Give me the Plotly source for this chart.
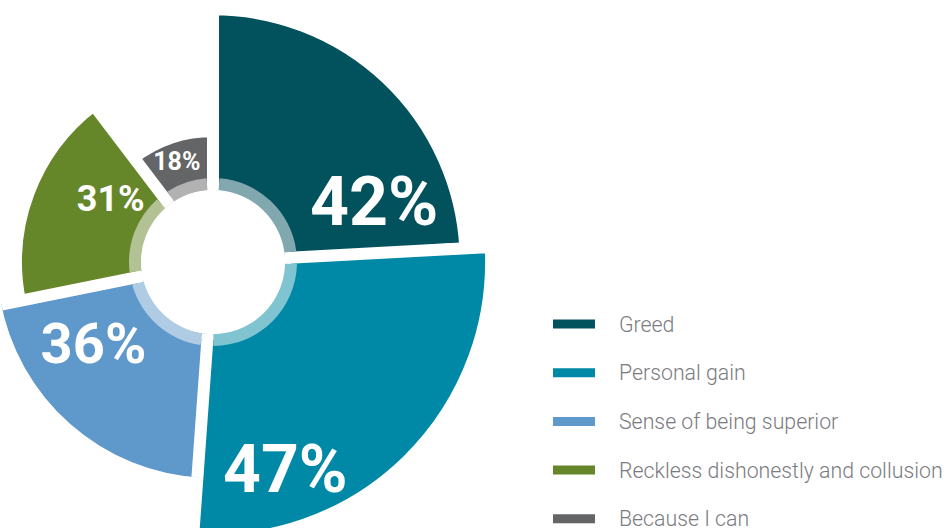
import math
import plotly.graph_objects as go

# ---------------- data ----------------
categories = ["Greed", "Personal gain", "Sense of being superior",
              "Reckless dishonestly and collusion", "Because I can"]
values = [42, 47, 36, 31, 18]
value_labels = ["42%", "47%", "36%", "31%", "18%"]

# ---------------- styles ----------------
colors = ["#02525E", "#0089A6", "#5F98CA", "#66862A", "#646567"]


def tint(hex_color, f=0.5):
    h = hex_color.lstrip("#")
    r, g, b = (int(h[i:i + 2], 16) for i in (0, 2, 4))
    r, g, b = (round(c + (255 - c) * f) for c in (r, g, b))
    return f"#{r:02X}{g:02X}{b:02X}"


ring_colors = [tint(c, 0.5) for c in colors]
label_sizes = [68, 66, 56, 36, 25]
label_frac = [0.80, 0.76, 0.69, 0.67, 0.47]     # angular position inside sector
label_rpx = [172, 220, 145, 120, 107]           # distance from centre (px)
LABEL_DROP = 0.085                               # vertical nudge, in em

W, H = 947, 560            # viewport shows the top 528 px (chart is cropped)
CX, CY = 213, 262          # centre of the chart in px
R_HOLE = 72                # hole radius in px
RING_PX = 12               # light inner ring thickness in px
GAP_PX = 12                # white gap between sectors
PX0, PXU = 39.8, 5.07      # radial scale: px = PX0 + PXU * value
CLIP_PAD = 1.5             # extra degrees of subplot sector around each bar

r0 = (R_HOLE - PX0) / PXU
ring_r = RING_PX / PXU

total = sum(values)
widths = [v / total * 360 for v in values]
starts = []
acc = 0
for w in widths:
    starts.append(acc)
    acc += w
centers = [s + w / 2 for s, w in zip(starts, widths)]
ring_gap_deg = 2 * math.degrees((GAP_PX / 2) / (R_HOLE + RING_PX / 2))


def sector_bbox(a0, a1):
    """bbox (unit circle, y up) of an angular sector incl. its centre"""
    pts = [(0.0, 0.0), (math.cos(math.radians(a0)), math.sin(math.radians(a0))),
           (math.cos(math.radians(a1)), math.sin(math.radians(a1)))]
    k = math.ceil(a0 / 90)
    while k * 90 <= a1:
        a = math.radians(k * 90)
        pts.append((round(math.cos(a)), round(math.sin(a))))
        k += 1
    xs = [p[0] for p in pts]
    ys = [p[1] for p in pts]
    return min(xs), min(ys), max(xs), max(ys)


def label_polar(i):
    """label position (radial units, degrees clockwise from top)"""
    th = math.radians(starts[i] + label_frac[i] * widths[i])
    dx = label_rpx[i] * math.sin(th)
    dy = -label_rpx[i] * math.cos(th) + LABEL_DROP * label_sizes[i]  # screen y down
    rp = math.hypot(dx, dy)
    ang = math.degrees(math.atan2(dx, -dy)) % 360
    return (rp - PX0) / PXU, ang


fig = go.Figure()
layout_polars = {}
for i in range(len(values)):
    pid = "polar" if i == 0 else f"polar{i + 1}"
    # screen angles (counter-clockwise from east) of this sector, padded a bit
    a0 = 90 - (starts[i] + widths[i]) - CLIP_PAD
    a1 = 90 - starts[i] + CLIP_PAD
    x0, y0, x1, y1 = sector_bbox(a0, a1)
    # biggest radius that keeps the subplot domain inside the figure
    lims = []
    if x0 < 0:
        lims.append(CX / -x0)
    if x1 > 0:
        lims.append((W - CX) / x1)
    if y1 > 0:
        lims.append(CY / y1)
    if -y0 > 0:
        lims.append((H - CY) / -y0)
    R = min(lims) * 0.999
    dom_x = [max(0, min(1, (CX + R * x0) / W)), max(0, min(1, (CX + R * x1) / W))]
    dom_y = [max(0, min(1, 1 - (CY - R * y0) / H)), max(0, min(1, 1 - (CY - R * y1) / H))]

    fig.add_trace(go.Barpolar(
        subplot=pid, r=[values[i] - r0], base=r0, theta=[centers[i]],
        width=[widths[i]], name=categories[i],
        marker=dict(color=colors[i], line=dict(color="white", width=GAP_PX)),
        showlegend=False, hoverinfo="skip",
    ))
    fig.add_trace(go.Barpolar(
        subplot=pid, r=[ring_r], base=r0, theta=[centers[i]],
        width=[widths[i] - ring_gap_deg],
        marker=dict(color=ring_colors[i], line=dict(width=0)),
        showlegend=False, hoverinfo="skip",
    ))
    lr, lt = label_polar(i)
    fig.add_trace(go.Scatterpolar(
        subplot=pid, r=[lr], theta=[lt],
        mode="text", text=[value_labels[i]], textposition="middle center",
        textfont=dict(color="white", size=label_sizes[i], family="Roboto",
                      weight="bold"),
        cliponaxis=False, showlegend=False, hoverinfo="skip",
    ))
    layout_polars[pid] = dict(
        domain=dict(x=dom_x, y=dom_y),
        sector=[a0, a1],
        hole=R_HOLE / R,
        bgcolor="rgba(0,0,0,0)",
        barmode="overlay", bargap=0,
        radialaxis=dict(range=[r0, (R - PX0) / PXU], visible=False, showgrid=False),
        angularaxis=dict(rotation=90, direction="clockwise", visible=False,
                         showgrid=False),
    )

# ---------------- legend (drawn as keys + labels) ----------------
LEG_X0, LEG_X1, LEG_TX = 553, 595, 617
LEG_Y0, LEG_DY, LEG_H = 324, 48.7, 9
shapes = []
annotations = []
for i, (name, col) in enumerate(zip(categories, colors)):
    yc = LEG_Y0 + i * LEG_DY
    shapes.append(dict(type="rect", xref="paper", yref="paper",
                       x0=LEG_X0 / W, x1=LEG_X1 / W,
                       y0=1 - (yc + LEG_H / 2) / H, y1=1 - (yc - LEG_H / 2) / H,
                       fillcolor=col, line=dict(width=0)))
    annotations.append(dict(xref="paper", yref="paper", x=LEG_TX / W, y=1 - yc / H,
                            xanchor="left", yanchor="middle", showarrow=False,
                            text=name,
                            font=dict(family="Roboto", size=21.3, color="#7A7B7F",
                                      weight=300)))

fig.update_layout(
    width=W, height=H,
    margin=dict(l=0, r=0, t=0, b=0),
    paper_bgcolor="white", plot_bgcolor="white",
    showlegend=False,
    shapes=shapes, annotations=annotations,
    **layout_polars,
)

fig.write_html("out.html", config={"displayModeBar": False},
               post_script="document.body.style.margin='0px';")
